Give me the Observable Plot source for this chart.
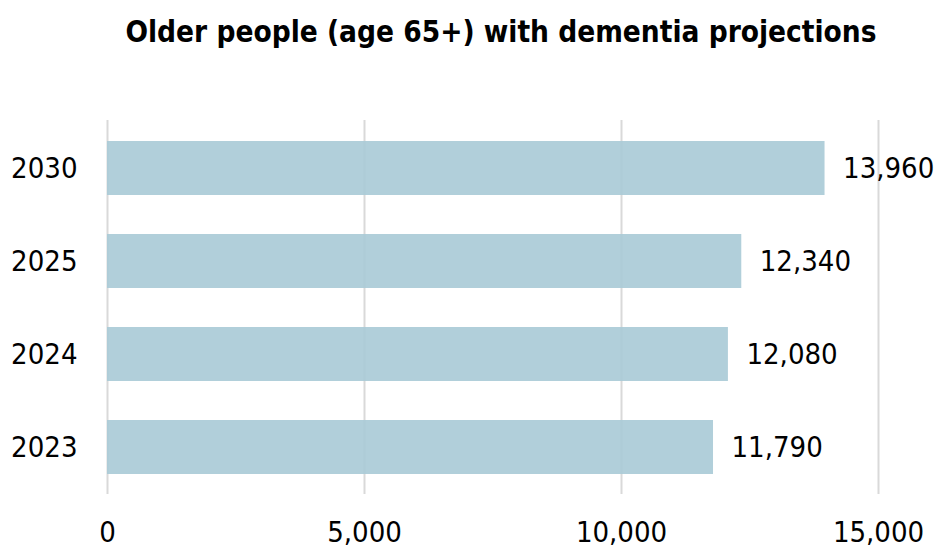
<!DOCTYPE html>
<html>
<head>
<meta charset="utf-8">
<script src="https://cdn.jsdelivr.net/npm/d3@7"></script>
<script src="https://cdn.jsdelivr.net/npm/@observablehq/plot@0.6"></script>
<style>
  html, body { margin: 0; padding: 0; background: #fff; }
  #wrap { width: 940px; height: 548px; position: relative; font-family: "DejaVu Sans Condensed", sans-serif; }
  #title { height: 80px; box-sizing: border-box; padding-top: 14px; text-align: center; font-size: 29.5px; line-height: 36px; font-weight: bold; color: #000; padding-left: 62px; }
</style>
</head>
<body>
<div id="wrap">
  <div id="title">Older people (age 65+) with dementia projections</div>
  <div id="chart"></div>
</div>
<script>
const years = ["2030", "2025", "2024", "2023"];
const values = [13960, 12340, 12080, 11790];
const xTicks = [0, 5000, 10000, 15000];

const data = years.map((y, i) => ({year: y, value: values[i]}));
const fmt = d3.format(",");

const plot = Plot.plot({
  width: 940,
  height: 468,
  marginLeft: 107,
  marginRight: 62,
  marginTop: 40,
  marginBottom: 54,
  style: {fontFamily: '"DejaVu Sans Condensed", sans-serif', fontSize: "29px", color: "#000", background: "#fff"},
  x: {domain: [0, 15000], ticks: xTicks, tickFormat: fmt, grid: false, label: null},
  y: {domain: years, paddingInner: 0.42, paddingOuter: 0.21, label: null},
  marks: [
    Plot.ruleX(xTicks, {stroke: "#d9d9d9", strokeWidth: 2}),
    Plot.barX(data, {y: "year", x: "value", fill: "#a9cad6", fillOpacity: 0.9}),
    Plot.text(data, {y: "year", x: "value", text: d => fmt(d.value), textAnchor: "start", dx: 18, fontSize: 29}),
    Plot.axisX({ticks: xTicks, tickFormat: fmt, tickSize: 0, tickPadding: 27, fontSize: 29, label: null}),
    Plot.axisY({tickSize: 0, tickPadding: 30, fontSize: 29, label: null})
  ]
});
document.getElementById("chart").appendChild(plot);
</script>
</body>
</html>
